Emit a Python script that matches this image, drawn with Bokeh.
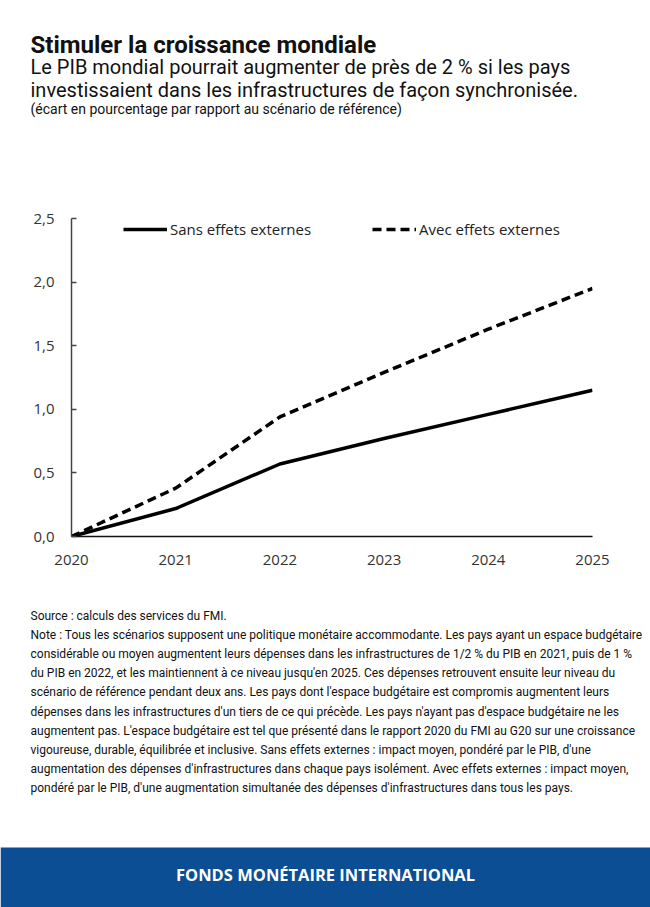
from bokeh.plotting import figure
from bokeh.layouts import column
from bokeh.models import (Range1d, FixedTicker, CustomJSTickFormatter,
                          Legend, LegendItem)
from bokeh.core.properties import value
from bokeh.embed import file_html
from bokeh.resources import INLINE

# ---------------- data ----------------
years = [2020, 2021, 2022, 2023, 2024, 2025]
sans_effets = [0.0, 0.22, 0.57, 0.77, 0.96, 1.15]
avec_effets = [0.0, 0.38, 0.94, 1.29, 1.63, 1.95]
y_ticks = [0.0, 0.5, 1.0, 1.5, 2.0, 2.5]
series_names = ["Sans effets externes", "Avec effets externes"]

title = "Stimuler la croissance mondiale"
subtitle = ["Le PIB mondial pourrait augmenter de près de 2 % si les pays",
            "investissaient dans les infrastructures de façon synchronisée."]
units = "(écart en pourcentage par rapport au scénario de référence)"
notes = [
    "Source : calculs des services du FMI.",
    "Note : Tous les scénarios supposent une politique monétaire accommodante. Les pays ayant un espace budgétaire",
    "considérable ou moyen augmentent leurs dépenses dans les infrastructures de 1/2 % du PIB en 2021, puis de 1 %",
    "du PIB en 2022, et les maintiennent à ce niveau jusqu'en 2025. Ces dépenses retrouvent ensuite leur niveau du",
    "scénario de référence pendant deux ans. Les pays dont l'espace budgétaire est compromis augmentent leurs",
    "dépenses dans les infrastructures d'un tiers de ce qui précède. Les pays n'ayant pas d'espace budgétaire ne les",
    "augmentent pas. L'espace budgétaire est tel que présenté dans le rapport 2020 du FMI au G20 sur une croissance",
    "vigoureuse, durable, équilibrée et inclusive. Sans effets externes : impact moyen, pondéré par le PIB, d'une",
    "augmentation des dépenses d'infrastructures dans chaque pays isolément. Avec effets externes : impact moyen,",
    "pondéré par le PIB, d'une augmentation simultanée des dépenses d'infrastructures dans tous les pays.",
]
banner_text = "FONDS MONÉTAIRE INTERNATIONAL"

W = 650
TOP_H, CHART_H, BOT_H = 195, 402, 310
TEXT_COLOR = "#111111"
TICK_FONT = "Open Sans"
TICK_COLOR = "#333333"


def text_panel(height, y0):
    f = figure(width=W, height=height, output_backend="svg", toolbar_location=None,
               x_range=Range1d(0, W), y_range=Range1d(y0 + height, y0),
               x_axis_type=None, y_axis_type=None, min_border=0, frame_align=False)
    f.outline_line_color = None
    f.xgrid.visible = False
    f.ygrid.visible = False
    f.background_fill_color = "white"
    f.border_fill_color = "white"
    return f


# ---------------- header ----------------
top = text_panel(TOP_H, 0)
top.text(x=[30], y=[44], text=[title], text_font=value("Roboto"), text_font_style="bold",
         text_font_size="24px", text_color=TEXT_COLOR, text_baseline="middle")
top.text(x=[30, 30], y=[66.5, 89], text=subtitle, text_font=value("Roboto"),
         text_font_size="20px", text_color=TEXT_COLOR, text_baseline="middle")
top.text(x=[30], y=[108], text=[units], text_font=value("Roboto"),
         text_font_size="14px", text_color=TEXT_COLOR, text_baseline="middle")

# ---------------- chart ----------------
p = figure(width=W, height=CHART_H, output_backend="svg", toolbar_location=None,
           x_range=Range1d(2020, 2025), y_range=Range1d(0, 2.5),
           min_border_left=71, min_border_right=58,
           min_border_top=23, min_border_bottom=61, frame_align=False)
p.outline_line_color = None
p.xgrid.grid_line_color = None
p.ygrid.grid_line_color = None
p.background_fill_color = "white"
p.border_fill_color = "white"

p.xaxis.ticker = FixedTicker(ticks=years)
p.xaxis.axis_line_color = "#111111"
p.xaxis.axis_line_width = 1.5
p.xaxis.major_tick_line_color = None
p.xaxis.minor_tick_line_color = None
p.xaxis.major_label_text_font = TICK_FONT
p.xaxis.major_label_text_font_size = "15px"
p.xaxis.major_label_text_color = TICK_COLOR
p.xaxis.major_label_standoff = 12

p.yaxis.ticker = FixedTicker(ticks=y_ticks)
p.yaxis.formatter = CustomJSTickFormatter(code="return tick.toFixed(1).replace('.', ',');")
p.yaxis.axis_line_color = "#444444"
p.yaxis.axis_line_width = 1.5
p.yaxis.major_tick_in = 5
p.yaxis.major_tick_out = 0
p.yaxis.major_tick_line_color = "#444444"
p.yaxis.major_tick_line_width = 1.5
p.yaxis.minor_tick_line_color = None
p.yaxis.major_label_text_font = TICK_FONT
p.yaxis.major_label_text_font_size = "15px"
p.yaxis.major_label_text_color = TICK_COLOR
p.yaxis.major_label_standoff = 17

r1 = p.line(years, sans_effets, line_color="black", line_width=3.5)
r2 = p.line(years, avec_effets, line_color="black", line_width=3.5, line_dash="9 5")

legend = Legend(items=[LegendItem(label=series_names[0], renderers=[r1]),
                       LegendItem(label=series_names[1], renderers=[r2])],
                orientation="horizontal", location=(52, 297),
                padding=0, margin=0, spacing=61, glyph_width=44, glyph_height=20,
                label_height=20, label_standoff=3,
                label_text_font=TICK_FONT, label_text_font_size="15px",
                label_text_color="#222222",
                border_line_color=None, background_fill_alpha=0)
p.add_layout(legend, "center")

# ---------------- footer ----------------
bot = text_panel(BOT_H, TOP_H + CHART_H)
bot.text(x=[30] * len(notes), y=[615 + 19.2 * i for i in range(len(notes))], text=notes,
         text_font=value("Roboto"), text_font_size="12px", text_color=TEXT_COLOR,
         text_baseline="middle")
bot.quad(left=[0], right=[W], top=[847], bottom=[907], fill_color="#0b4e94",
         line_color=None)
bot.text(x=[325], y=[874], text=[banner_text], text_font=value("Open Sans"),
         text_font_style="bold", text_font_size="16.5px", text_color="white",
         text_align="center", text_baseline="middle")

layout = column(top, p, bot, spacing=0)
open("out.html", "w").write(file_html(layout, INLINE))
